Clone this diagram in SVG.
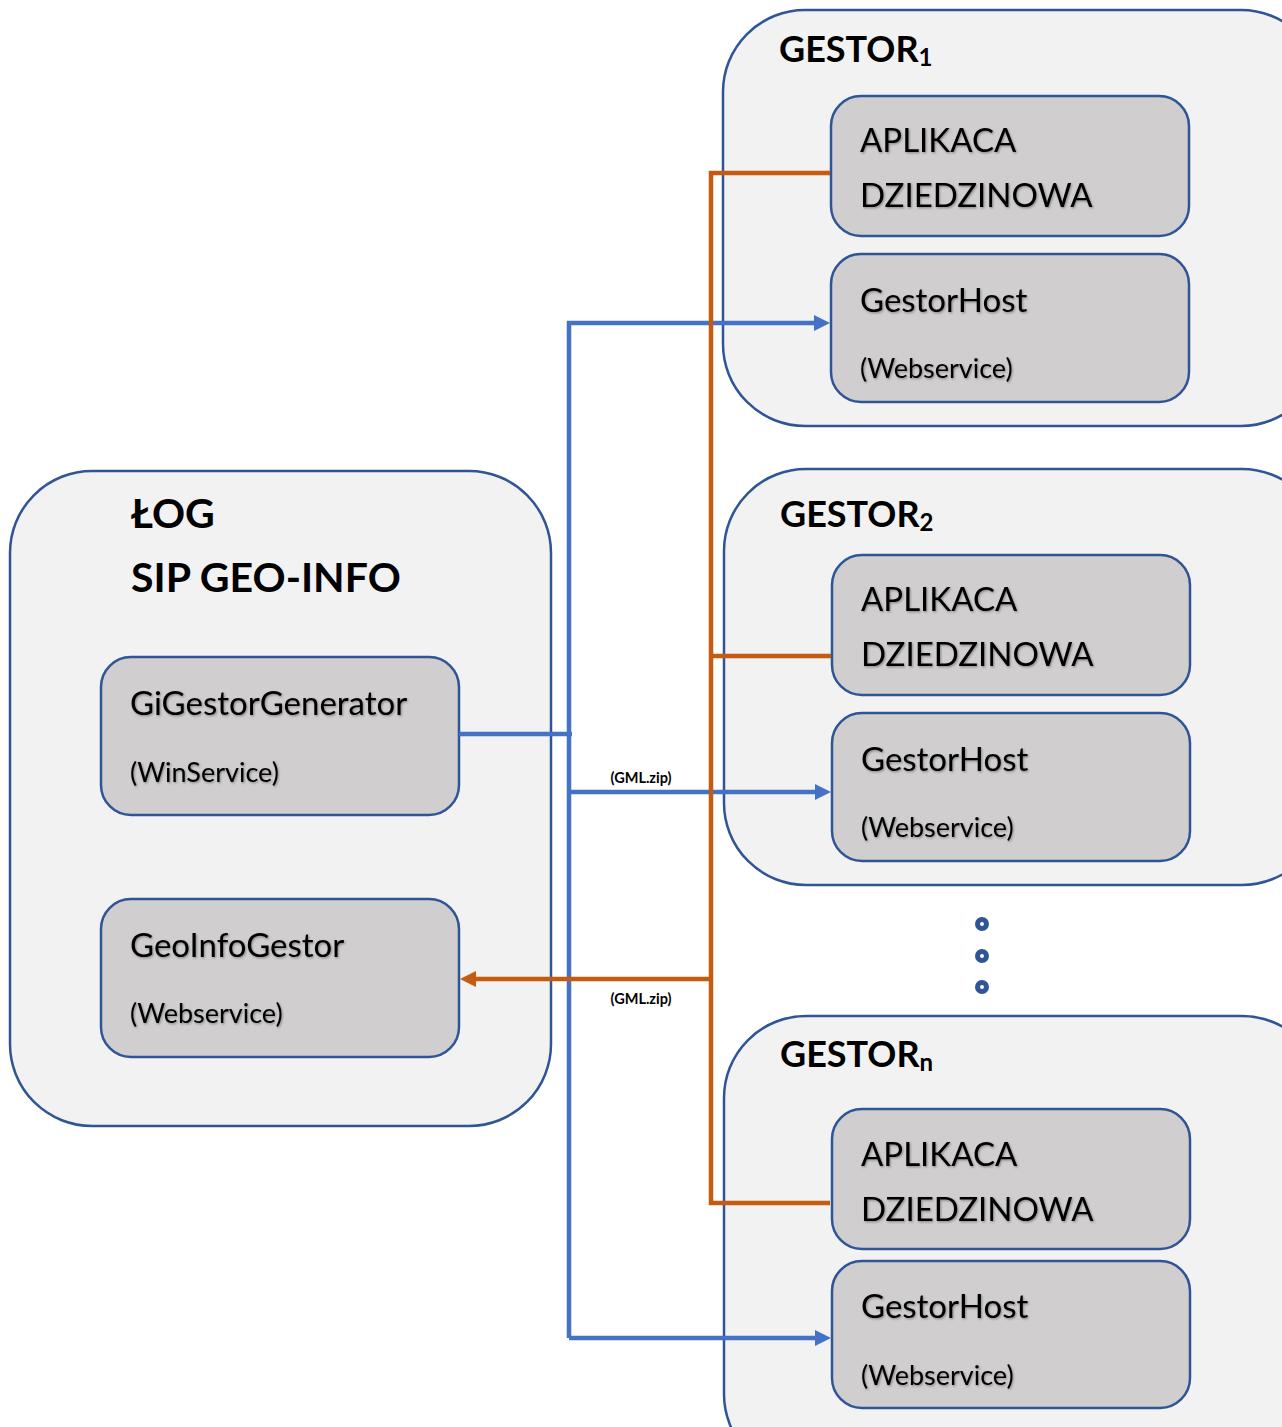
<svg xmlns="http://www.w3.org/2000/svg" width="1282" height="1427" viewBox="0 0 1282 1427">
<defs>
<style>
.outer{fill:#f2f2f2;stroke:#2f5597;stroke-width:2.5}
.inner{fill:#d0cece;stroke:#2f5597;stroke-width:2.5}
.t{font-family:Lato,"Open Sans","Liberation Sans",sans-serif;fill:#000}
.big{font-size:33px;filter:url(#sh)}
.small{font-size:27px;filter:url(#sh)}
.head{font-weight:bold;font-size:36px}
.lbl{font-family:Lato,"Liberation Sans",sans-serif;font-weight:bold;font-size:14.5px;fill:#000}
.blue{fill:none;stroke:#4472c4;stroke-width:4.5}
.orange{fill:none;stroke:#c55a11;stroke-width:4.5}
.ahb{fill:#4472c4}
.aho{fill:#c55a11}
.dot{fill:#fff;stroke:#2f5597;stroke-width:5}
</style>
<filter id="sh" x="-5%" y="-20%" width="110%" height="140%">
<feDropShadow dx="1" dy="1.2" stdDeviation="0.9" flood-color="#000" flood-opacity="0.35"/>
</filter>
</defs>
<rect width="1282" height="1427" fill="#fff"/>

<g id="log">
<rect class="outer" x="10" y="471" width="541" height="655" rx="82"/>
<text class="t head" x="131" y="528" style="font-size:41px">ŁOG</text>
<text class="t head" x="131" y="592" style="font-size:41px">SIP GEO-INFO</text>
</g>
<g id="gigestorgenerator">
<rect class="inner" x="101" y="657" width="358" height="158" rx="30"/>
<text class="t big" x="130" y="715">GiGestorGenerator</text>
<text class="t small" x="130" y="782">(WinService)</text>
</g>
<g id="geoinfogestor">
<rect class="inner" x="101" y="899" width="358" height="158" rx="30"/>
<text class="t big" x="130" y="957">GeoInfoGestor</text>
<text class="t small" x="130" y="1023">(Webservice)</text>
</g>

<g id="gestor1">
<rect class="outer" x="723" y="10" width="600" height="416" rx="82"/>
<text class="t head" x="779" y="62">GESTOR<tspan font-size="24" dy="4">1</tspan></text>
</g>
<g id="aplikacja1">
<rect class="inner" x="831" y="96" width="358" height="140" rx="30"/>
<text class="t big" x="860" y="152">APLIKACA</text>
<text class="t big" x="860" y="207">DZIEDZINOWA</text>
</g>
<g id="gestorhost1">
<rect class="inner" x="831" y="254" width="358" height="148" rx="30"/>
<text class="t big" x="860" y="312">GestorHost</text>
<text class="t small" x="860" y="378">(Webservice)</text>
</g>

<g id="gestor2">
<rect class="outer" x="724" y="469" width="600" height="416" rx="82"/>
<text class="t head" x="780" y="527">GESTOR<tspan font-size="24" dy="4">2</tspan></text>
</g>
<g id="aplikacja2">
<rect class="inner" x="832" y="555" width="358" height="140" rx="30"/>
<text class="t big" x="861" y="611">APLIKACA</text>
<text class="t big" x="861" y="666">DZIEDZINOWA</text>
</g>
<g id="gestorhost2">
<rect class="inner" x="832" y="713" width="358" height="148" rx="30"/>
<text class="t big" x="861" y="771">GestorHost</text>
<text class="t small" x="861" y="837">(Webservice)</text>
</g>

<g id="ellipsis">
<circle class="dot" cx="982" cy="924" r="4.5"/>
<circle class="dot" cx="982" cy="956" r="4.5"/>
<circle class="dot" cx="982" cy="987" r="4.5"/>
</g>

<g id="gestorn">
<rect class="outer" x="724" y="1016" width="600" height="460" rx="82"/>
<text class="t head" x="780" y="1067">GESTOR<tspan font-size="24" dy="4">n</tspan></text>
</g>
<g id="aplikacjan">
<rect class="inner" x="832" y="1109" width="358" height="140" rx="30"/>
<text class="t big" x="861" y="1166">APLIKACA</text>
<text class="t big" x="861" y="1221">DZIEDZINOWA</text>
</g>
<g id="gestorhostn">
<rect class="inner" x="832" y="1261" width="358" height="147" rx="30"/>
<text class="t big" x="861" y="1318">GestorHost</text>
<text class="t small" x="861" y="1385">(Webservice)</text>
</g>

<g id="connectors">
<path class="blue" d="M459,734 H572"/>
<path class="blue" d="M569,1338 V323 H816"/>
<path class="blue" d="M569,792 H816"/>
<path class="blue" d="M569,1338 H816"/>
<polygon class="ahb" points="830,323 814,315 814,331"/>
<polygon class="ahb" points="831,792 815,784 815,800"/>
<polygon class="ahb" points="831,1338 815,1330 815,1346"/>
<path class="orange" d="M830,173 H711 V1203 H830"/>
<path class="orange" d="M711,656 H831"/>
<path class="orange" d="M711,979 H474"/>
<polygon class="aho" points="460,979 476,971 476,987"/>
<text class="lbl" x="641" y="783" text-anchor="middle">(GML.zip)</text>
<text class="lbl" x="641" y="1004" text-anchor="middle">(GML.zip)</text>
</g>
</svg>
